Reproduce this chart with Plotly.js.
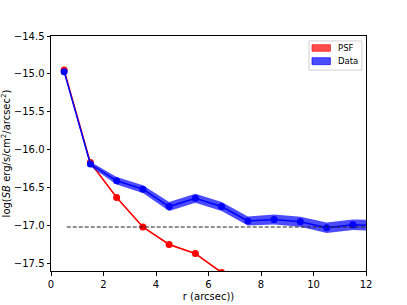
<!DOCTYPE html>
<html>
<head>
<meta charset="utf-8">
<script src="https://cdn.plot.ly/plotly-3.0.1.min.js"></script>
<style>html,body{margin:0;padding:0;background:#fff;}#chart{width:407px;height:305px;}</style>
</head>
<body>
<div id="chart"></div>
<script>
const radius = [0.5, 1.5, 2.5, 3.5, 4.5, 5.5, 6.5, 7.5, 8.5, 9.5, 10.5, 11.5, 12.5];
const psfSB = [-14.95, -16.17, -16.63, -17.02, -17.25, -17.37, -17.62, -17.85, -18.05, -18.2, -18.35, -18.45, -18.55];
const psfErr = [0.01, 0.01, 0.01, 0.01, 0.01, 0.01, 0.01, 0.01, 0.01, 0.01, 0.01, 0.01, 0.01];
const dataSB = [-14.97, -16.19, -16.41, -16.52, -16.75, -16.64, -16.75, -16.94, -16.92, -16.95, -17.03, -16.99, -17.0];
const dataErr = [0.01, 0.03, 0.05, 0.05, 0.06, 0.06, 0.06, 0.06, 0.065, 0.065, 0.07, 0.07, 0.07];
const limitX = [0.6, 13];
const limitY = [-17.02, -17.02];
const legendNames = ['PSF', 'Data'];
const legendColors = ['rgba(255,0,0,0.7)', 'rgba(0,0,255,0.7)'];

function band(x, y, e, color, name) {
  const lo = y.map((v, i) => v - e[i]);
  const hi = y.map((v, i) => v + e[i]);
  return [
    {x: x, y: lo, mode: 'lines', line: {width: 0, color: color}, showlegend: false, hoverinfo: 'skip'},
    {x: x, y: hi, mode: 'lines', line: {width: 0, color: color}, fill: 'tonexty', fillcolor: color, name: name, showlegend: false}
  ];
}

const traces = [].concat(
  band(radius, psfSB, psfErr, legendColors[0], legendNames[0]),
  [{x: radius, y: psfSB, mode: 'lines+markers', line: {color: '#ff0000', width: 1.5}, marker: {color: '#ff0000', size: 7}, showlegend: false}],
  band(radius, dataSB, dataErr, legendColors[1], legendNames[1]),
  [{x: radius, y: dataSB, mode: 'lines+markers', line: {color: '#0000ff', width: 1.5}, marker: {color: '#0000ff', size: 7}, showlegend: false}],
  [{x: limitX, y: limitY, mode: 'lines', line: {color: '#222', width: 1, dash: '4px,2px'}, showlegend: false}]
);

// manual legend (matplotlib style)
const shapes = [
  {type: 'rect', xref: 'paper', yref: 'paper', x0: 0.819, x1: 0.987, y0: 0.855, y1: 0.979,
   line: {color: '#d0d0d0', width: 1}, fillcolor: 'rgba(255,255,255,0.8)', layer: 'above'}
];
const annotations = [];
const swatchY = [[0.935, 0.963], [0.878, 0.9077]];
const lineColors = ['rgba(255,0,0,0.8)', 'rgba(0,0,255,0.8)'];
legendNames.forEach((n, i) => {
  shapes.push({type: 'rect', xref: 'paper', yref: 'paper', x0: 0.8286, x1: 0.887, y0: swatchY[i][0], y1: swatchY[i][1],
               line: {color: lineColors[i], width: 0.8}, fillcolor: legendColors[i], layer: 'above'});
  annotations.push({xref: 'paper', yref: 'paper', x: 0.906, y: (swatchY[i][0] + swatchY[i][1]) / 2,
                    xanchor: 'left', yanchor: 'middle', text: n, showarrow: false, font: {size: 8.5, color: '#000'}});
});

const layout = {
  width: 407, height: 305,
  margin: {l: 51, r: 41, t: 36, b: 34},
  paper_bgcolor: '#fff', plot_bgcolor: '#fff',
  font: {family: 'DejaVu Sans', size: 10, color: '#000'},
  showlegend: false,
  shapes: shapes,
  annotations: annotations,
  xaxis: {range: [0, 12], tickvals: [0, 2, 4, 6, 8, 10, 12], ticks: 'outside', ticklen: 3.5, tickcolor: '#000',
          showgrid: false, zeroline: false, showline: true, linecolor: '#000', linewidth: 1, mirror: true,
          title: {text: 'r (arcsec))', font: {size: 10}, standoff: 4}, tickfont: {size: 10}},
  yaxis: {range: [-17.6, -14.5], tickvals: [-17.5, -17, -16.5, -16, -15.5, -15, -14.5],
          ticktext: ['\u221217.5', '\u221217.0', '\u221216.5', '\u221216.0', '\u221215.5', '\u221215.0', '\u221214.5'],
          ticks: 'outside', ticklen: 3.5, tickcolor: '#000',
          showgrid: false, zeroline: false, showline: true, linecolor: '#000', linewidth: 1, mirror: true,
          title: {text: 'log(<i>SB</i> erg/s/cm<sup>2</sup>/arcsec<sup>2</sup>)', font: {size: 10}, standoff: 8}, tickfont: {size: 10}}
};

Plotly.newPlot('chart', traces, layout, {displayModeBar: false, staticPlot: true});
</script>
</body>
</html>
